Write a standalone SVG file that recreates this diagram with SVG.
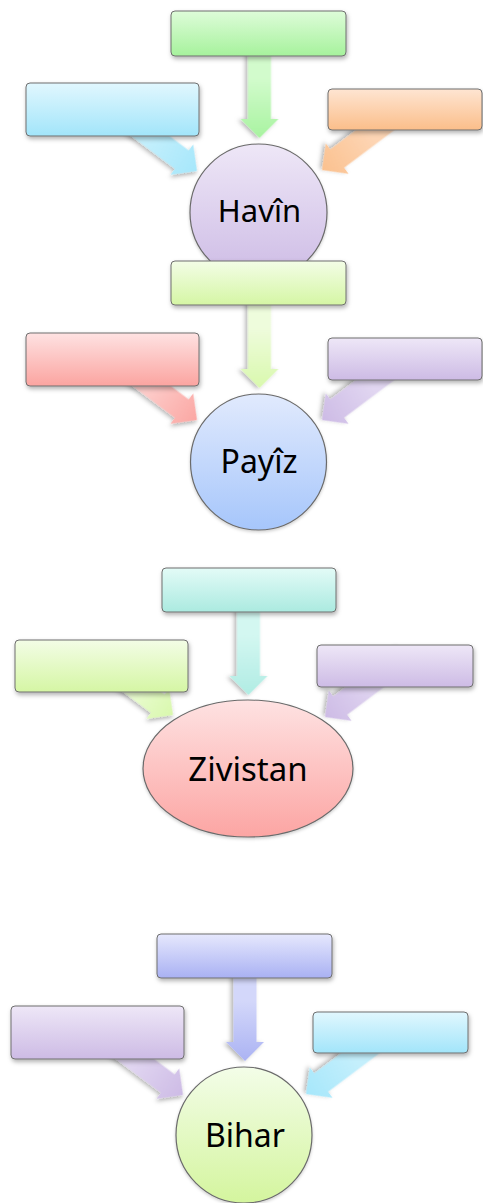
<svg xmlns="http://www.w3.org/2000/svg" xmlns:xlink="http://www.w3.org/1999/xlink" width="483" height="1203" viewBox="0 0 483 1203">
<style>
.box{stroke:#6f6f6f;stroke-width:1;filter:url(#sh)}
.hub{stroke:#6a6a6a;stroke-width:1.2;filter:url(#sh2)}
.arr{filter:url(#sh)}
.lbl{font-family:"Noto Sans","Open Sans","Liberation Sans",sans-serif;fill:#000;text-anchor:middle}
</style>
<defs>
<filter id="sh" x="-20%" y="-20%" width="150%" height="160%">
<feDropShadow dx="1" dy="2.5" stdDeviation="2" flood-color="#000" flood-opacity="0.3"/>
</filter>
<filter id="sh2" x="-20%" y="-20%" width="150%" height="150%">
<feDropShadow dx="0" dy="1.5" stdDeviation="1.5" flood-color="#000" flood-opacity="0.2"/>
</filter>
<path id="arrow" d="M-100,-11.5 L-19,-11.5 L-19,-19 L0,0 L-19,19 L-19,11.5 L-100,11.5 Z"/>
<linearGradient id="gGreen" x1="0" y1="0" x2="0" y2="1"><stop offset="0" stop-color="#defcd9"/><stop offset="1" stop-color="#a6f29c"/></linearGradient>
<linearGradient id="gBlue" x1="0" y1="0" x2="0" y2="1"><stop offset="0" stop-color="#e1f7fe"/><stop offset="1" stop-color="#a2e5fa"/></linearGradient>
<linearGradient id="gOrange" x1="0" y1="0" x2="0" y2="1"><stop offset="0" stop-color="#fee5d2"/><stop offset="1" stop-color="#fbbe8a"/></linearGradient>
<linearGradient id="gLav" x1="0" y1="0" x2="0" y2="1"><stop offset="0" stop-color="#eee7f7"/><stop offset="1" stop-color="#cdbbe5"/></linearGradient>
<linearGradient id="gYG" x1="0" y1="0" x2="0" y2="1"><stop offset="0" stop-color="#f3fde6"/><stop offset="1" stop-color="#d5f6a4"/></linearGradient>
<linearGradient id="gPink" x1="0" y1="0" x2="0" y2="1"><stop offset="0" stop-color="#fee2e2"/><stop offset="1" stop-color="#fba4a0"/></linearGradient>
<linearGradient id="gSky" x1="0" y1="0" x2="0" y2="1"><stop offset="0" stop-color="#e1eafd"/><stop offset="1" stop-color="#a6c6fb"/></linearGradient>
<linearGradient id="gTeal" x1="0" y1="0" x2="0" y2="1"><stop offset="0" stop-color="#e3fbf7"/><stop offset="1" stop-color="#abeae0"/></linearGradient>
<linearGradient id="gRed" x1="0" y1="0" x2="0" y2="1"><stop offset="0" stop-color="#fee2e2"/><stop offset="1" stop-color="#fca5a3"/></linearGradient>
<linearGradient id="gPeri" x1="0" y1="0" x2="0" y2="1"><stop offset="0" stop-color="#e6e8fd"/><stop offset="1" stop-color="#a9b1f3"/></linearGradient>
<linearGradient id="gLime" x1="0" y1="0" x2="0" y2="1"><stop offset="0" stop-color="#f3fde8"/><stop offset="1" stop-color="#d4f59e"/></linearGradient>
<linearGradient id="aGreen" x1="0" y1="0" x2="1" y2="0"><stop offset="0.4" stop-color="#d2fbcc"/><stop offset="1" stop-color="#a8f3a0"/></linearGradient>
<linearGradient id="aBlue" x1="0" y1="0" x2="1" y2="0"><stop offset="0.4" stop-color="#c4effc"/><stop offset="1" stop-color="#a6e7fb"/></linearGradient>
<linearGradient id="aOrange" x1="0" y1="0" x2="1" y2="0"><stop offset="0.4" stop-color="#fdd5b4"/><stop offset="1" stop-color="#fbc18f"/></linearGradient>
<linearGradient id="aYG" x1="0" y1="0" x2="1" y2="0"><stop offset="0.4" stop-color="#eefcdc"/><stop offset="1" stop-color="#d9f8ad"/></linearGradient>
<linearGradient id="aPink" x1="0" y1="0" x2="1" y2="0"><stop offset="0.4" stop-color="#fdcdcb"/><stop offset="1" stop-color="#fba7a3"/></linearGradient>
<linearGradient id="aLav" x1="0" y1="0" x2="1" y2="0"><stop offset="0.4" stop-color="#e1d6f1"/><stop offset="1" stop-color="#cdbbe5"/></linearGradient>
<linearGradient id="aTeal" x1="0" y1="0" x2="1" y2="0"><stop offset="0.4" stop-color="#d3f7f1"/><stop offset="1" stop-color="#b0ece3"/></linearGradient>
<linearGradient id="aPeri" x1="0" y1="0" x2="1" y2="0"><stop offset="0.4" stop-color="#d3d7fa"/><stop offset="1" stop-color="#abb3f3"/></linearGradient>
</defs>
<rect width="483" height="1203" fill="#ffffff"/>

<g id="connectors">
<use xlink:href="#arrow" class="arr" fill="url(#aGreen)" transform="translate(259.5,138) rotate(90)"/>
<use xlink:href="#arrow" class="arr" fill="url(#aBlue)" transform="translate(197,171) rotate(36.87)"/>
<use xlink:href="#arrow" class="arr" fill="url(#aOrange)" transform="translate(322,170) rotate(143.13)"/>

<use xlink:href="#arrow" class="arr" fill="url(#aYG)" transform="translate(259.5,388) rotate(90)"/>
<use xlink:href="#arrow" class="arr" fill="url(#aPink)" transform="translate(197,420) rotate(36.87)"/>
<use xlink:href="#arrow" class="arr" fill="url(#aLav)" transform="translate(322,420) rotate(143.13)"/>

<use xlink:href="#arrow" class="arr" fill="url(#aTeal)" transform="translate(248.5,695) rotate(90)"/>
<use xlink:href="#arrow" class="arr" fill="url(#aYG)" transform="translate(173,715) rotate(36.87)"/>
<use xlink:href="#arrow" class="arr" fill="url(#aLav)" transform="translate(325,717) rotate(143.13)"/>

<use xlink:href="#arrow" class="arr" fill="url(#aPeri)" transform="translate(245,1061) rotate(90)"/>
<use xlink:href="#arrow" class="arr" fill="url(#aLav)" transform="translate(183,1095) rotate(36.87)"/>
<use xlink:href="#arrow" class="arr" fill="url(#aBlue)" transform="translate(306,1094) rotate(143.13)"/>
</g>

<g id="havin-top"><rect class="box" x="171" y="11" width="175" height="45" rx="4" fill="url(#gGreen)"/></g>
<g id="havin-left"><rect class="box" x="26" y="83" width="173" height="53" rx="4" fill="url(#gBlue)"/></g>
<g id="havin-right"><rect class="box" x="328" y="89" width="154" height="41" rx="4" fill="url(#gOrange)"/></g>
<g id="havin">
<circle class="hub" cx="258.5" cy="212.5" r="68.5" fill="url(#gLav)"/>
<text class="lbl" x="259.5" y="222" font-size="31">Havîn</text>
</g>

<g id="payiz-top"><rect class="box" x="171" y="261" width="175" height="44" rx="4" fill="url(#gYG)"/></g>
<g id="payiz-left"><rect class="box" x="26" y="333" width="173" height="53" rx="4" fill="url(#gPink)"/></g>
<g id="payiz-right"><rect class="box" x="328" y="338" width="154" height="42" rx="4" fill="url(#gLav)"/></g>
<g id="payiz">
<circle class="hub" cx="258.5" cy="462" r="68" fill="url(#gSky)"/>
<text class="lbl" x="259" y="473" font-size="32">Payîz</text>
</g>

<g id="zivistan-top"><rect class="box" x="162" y="568" width="174" height="44" rx="4" fill="url(#gTeal)"/></g>
<g id="zivistan-left"><rect class="box" x="15" y="640" width="173" height="52" rx="4" fill="url(#gYG)"/></g>
<g id="zivistan-right"><rect class="box" x="317" y="645" width="156" height="42" rx="4" fill="url(#gLav)"/></g>
<g id="zivistan">
<ellipse class="hub" cx="248" cy="768.5" rx="105" ry="68.5" fill="url(#gRed)"/>
<text class="lbl" x="248" y="781" font-size="33">Zivistan</text>
</g>

<g id="bihar-top"><rect class="box" x="157" y="934" width="175" height="44" rx="4" fill="url(#gPeri)"/></g>
<g id="bihar-left"><rect class="box" x="11" y="1006" width="173" height="53" rx="4" fill="url(#gLav)"/></g>
<g id="bihar-right"><rect class="box" x="313" y="1012" width="155" height="41" rx="4" fill="url(#gBlue)"/></g>
<g id="bihar">
<circle class="hub" cx="244" cy="1135" r="68" fill="url(#gLime)"/>
<text class="lbl" x="245" y="1147" font-size="32">Bihar</text>
</g>
</svg>
